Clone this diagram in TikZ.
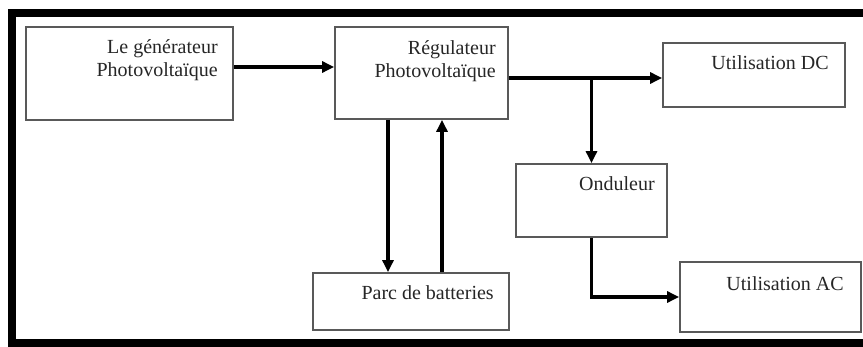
\documentclass[tikz,border=0pt]{standalone}
\usepackage{fontspec}
\setmainfont{Liberation Serif}
\usetikzlibrary{positioning,arrows.meta}

\tikzset{
  blk/.style={draw=black!65, line width=1.8pt, inner sep=0pt},
  lbl/.style={font=\fontsize{20}{23}\selectfont, align=right, inner sep=0pt, text=black!85},
  flow/.style={line width=3.4pt, -{Triangle[length=12pt,width=11pt]}}
}

\begin{document}
\begin{tikzpicture}[x=1pt, y=-1pt, line cap=butt, line join=miter]
    \useasboundingbox (0,0) rectangle (863,347);
    \clip (0,0) rectangle (863,347);
    \draw[line width=8pt] (12,13) rectangle (900,343);

    % blocks
    \node[blk, minimum width=207pt, minimum height=93pt] (gen) at (129.5,73.5) {};
    \node[blk, minimum width=173pt, minimum height=92pt] (reg) at (421.5,73) {};
    \node[blk, minimum width=182pt, minimum height=64pt] (dc) at (754,75) {};
    \node[blk, minimum width=151pt, minimum height=73pt] (ond) at (591.5,200.5) {};
    \node[blk, minimum width=196pt, minimum height=57pt] (bat) at (411,301.5) {};
    \node[blk, minimum width=181pt, minimum height=70pt] (ac) at (770.5,297) {};

    % texts
    \node[lbl, below left=13pt and 16pt of gen.north east] (gen-t) {Le générateur\\Photovoltaïque};
    \node[lbl, below left=14pt and 13pt of reg.north east] (reg-t) {Régulateur\\Photovoltaïque};
    \node[lbl, below left=13pt and 17pt of dc.north east] (dc-t) {Utilisation DC};
    \node[lbl, below left=13pt and 13pt of ond.north east] (ond-t) {Onduleur};
    \node[lbl, below left=13pt and 16pt of bat.north east] (bat-t) {Parc de batteries};
    \node[lbl, below left=15pt and 18pt of ac.north east] (ac-t) {Utilisation AC};

    % connections
    \coordinate (split) at (ond.north |- 0,78);
    \draw[flow] (gen.east |- 0,67) -- (reg.west |- 0,67);
    \draw[flow] (reg.east |- 0,78) -- (dc.west |- 0,78);
    \draw[flow] (split) -- (ond.north);
    \draw[flow] (reg.south -| 388,0) -- (bat.north -| 388,0);
    \draw[flow] (bat.north -| 442,0) -- (reg.south -| 442,0);
    \draw[flow] (ond.south) |- (ac.west);
  \end{tikzpicture}
\end{document}
